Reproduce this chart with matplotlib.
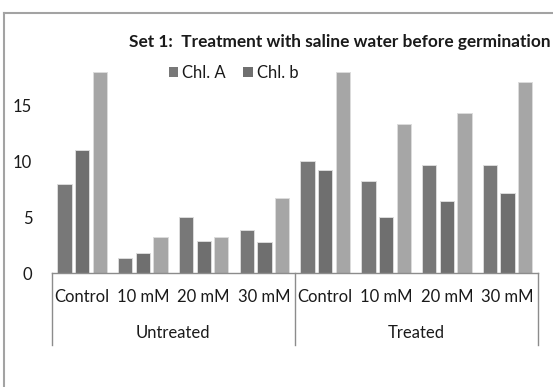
import matplotlib
matplotlib.use("Agg")
import matplotlib.pyplot as plt
from matplotlib.lines import Line2D
from matplotlib.patches import Patch
import numpy as np

# Chlorophyll content per treatment group
categories = ["Control", "10 mM", "20 mM", "30 mM",
              "Control", "10 mM", "20 mM", "30 mM"]
groups = ["Untreated", "Treated"]
chl_a = [8.0, 1.4, 5.0, 3.9, 10.0, 8.2, 9.7, 9.7]
chl_b = [11.0, 1.8, 2.9, 2.8, 9.2, 5.0, 6.5, 7.2]
total_chl = [18.0, 3.2, 3.2, 6.7, 18.0, 13.3, 14.3, 17.1]
y_ticks = [0, 5, 10, 15]

FONT = "Lato"
FS = 12
TXT = "#1a1a1a"

W, H = 553, 387
fig = plt.figure(figsize=(W / 100, H / 100), dpi=100)
fig.patch.set_facecolor("white")

# axes placed in pixel terms
left, right, zero_y, top_y = 51.7, 538.0, 273.3, 49.3
ax = fig.add_axes([left / W, 1 - zero_y / H, (right - left) / W, (zero_y - top_y) / H])

x = np.arange(len(categories))
bw = 0.235
ec = "#dcdcdc"
ax.bar(x - 0.29, chl_a, bw, color="#787878", edgecolor=ec, linewidth=0.7, label="Chl. A")
ax.bar(x, chl_b, bw, color="#6f6f6f", edgecolor=ec, linewidth=0.7, label="Chl. b")
ax.bar(x + 0.29, total_chl, bw, color="#a6a6a6", edgecolor=ec, linewidth=0.7)

ax.set_xlim(-0.5, len(categories) - 0.5)
ax.set_ylim(0, 20)
ax.set_yticks(y_ticks)
ax.set_yticklabels([str(t) for t in y_ticks], fontfamily=FONT, fontsize=FS, color=TXT)
ax.tick_params(axis="y", length=0, pad=14)
ax.set_xticks([])
for s in ["top", "right", "left"]:
    ax.spines[s].set_visible(False)
ax.spines["bottom"].set_color("#8c8c8c")
ax.spines["bottom"].set_linewidth(1.0)

trans = ax.get_xaxis_transform()
h_ax = zero_y - top_y
cat_base = -(302.3 - zero_y) / h_ax
grp_base = -(338.3 - zero_y) / h_ax
sep_bottom = -(345.0 - zero_y) / h_ax

for xi, lab in zip(x, categories):
    ax.text(xi, cat_base, lab, transform=trans, ha="center", va="baseline",
            fontfamily=FONT, fontsize=FS, color=TXT)

n_per = len(categories) // len(groups)
for gi, g in enumerate(groups):
    center = gi * n_per + (n_per - 1) / 2
    ax.text(center, grp_base, g, transform=trans, ha="center", va="baseline",
            fontfamily=FONT, fontsize=FS, color=TXT)

for xs in [-0.5, n_per - 0.5, len(categories) - 0.5]:
    ax.add_line(Line2D([xs, xs], [0, sep_bottom], transform=trans, color="#8c8c8c",
                       linewidth=1.0, clip_on=False))

# title and legend
fig.text(340 / W, 1 - 47 / H, "Set 1:  Treatment with saline water before germination",
         ha="center", va="baseline", fontfamily=FONT, fontweight="bold", fontsize=12.4,
         color=TXT)

handles = [Patch(facecolor="#787878", edgecolor="none"),
           Patch(facecolor="#6f6f6f", edgecolor="none")]
leg = fig.legend(handles, ["Chl. A", "Chl. b"], loc="center left", ncol=2,
                 bbox_to_anchor=(169 / W, 1 - 73 / H), bbox_transform=fig.transFigure,
                 frameon=False, borderpad=0, borderaxespad=0, handlelength=0.55,
                 handleheight=0.55, handletextpad=0.25, columnspacing=1.05,
                 prop={"family": FONT, "size": FS})
for t in leg.get_texts():
    t.set_color(TXT)

# outer chart border
fc = "#a3a3a3"
fig.add_artist(Line2D([4 / W, 1], [1 - 13 / H, 1 - 13 / H], transform=fig.transFigure,
                      color=fc, linewidth=1.5))
fig.add_artist(Line2D([4 / W, 4 / W], [1 - 13 / H, 0], transform=fig.transFigure,
                      color=fc, linewidth=1.5))

fig.savefig("out.png", dpi=100, facecolor="white")
